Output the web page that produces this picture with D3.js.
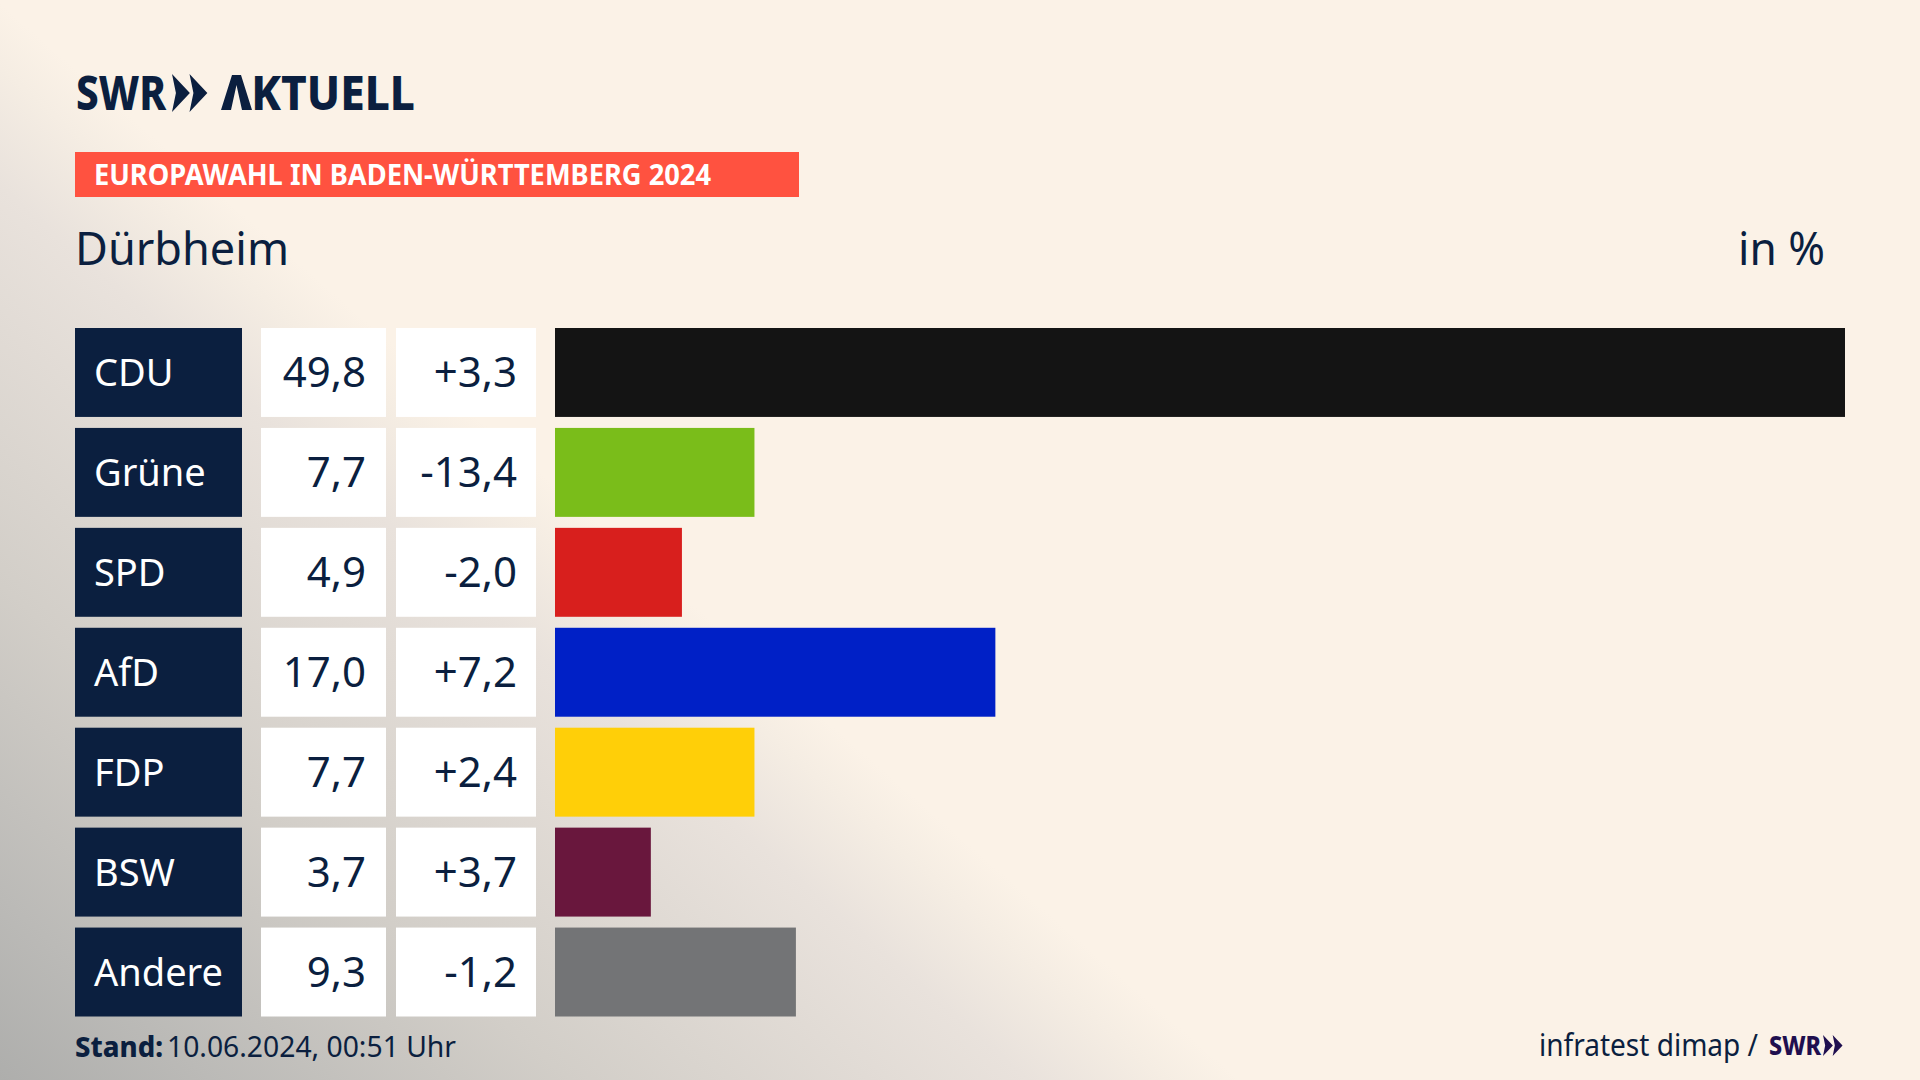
<!DOCTYPE html>
<html>
<head>
<meta charset="utf-8">
<script src="https://cdnjs.cloudflare.com/ajax/libs/d3/7.9.0/d3.min.js"></script>
<style>
  html, body { margin: 0; padding: 0; background: #fbf2e7; }
  svg { display: block; font-family: 'Noto Sans', sans-serif; }
</style>
</head>
<body>
<div id="chart"></div>
<script>
const parties = ['CDU', 'Grüne', 'SPD', 'AfD', 'FDP', 'BSW', 'Andere'];
const shares = [49.8, 7.7, 4.9, 17.0, 7.7, 3.7, 9.3];
const changes = [3.3, -13.4, -2.0, 7.2, 2.4, 3.7, -1.2];
const partyColors = ['#141414', '#7abd1a', '#d81f1d', '#0020c6', '#ffcf08', '#69173d', '#737476'];

const navy = '#0b1f3f';
const cream = '#fbf2e7';
const width = 1920;
const height = 1080;

const de = d3.formatLocale({ decimal: ',', thousands: '.', grouping: [3], currency: ['', '€'], minus: '-' });
const fmtShare = de.format('.1f');
const fmtChange = de.format('+.1f');

const svg = d3.select('#chart').append('svg').attr('width', width).attr('height', height);

// background, cream with a grey haze running in diagonally from the bottom left corner
const haze = svg.append('defs').append('linearGradient')
  .attr('id', 'haze')
  .attr('gradientUnits', 'userSpaceOnUse')
  .attr('x1', 0).attr('y1', height)
  .attr('x2', 533).attr('y2', 466);
[[0, '#aeaeac'], [0.17, '#bbbab7'], [0.46, '#d2cec8'], [0.83, '#e9e2dc'], [0.94, '#f5ede3'], [1, cream]]
  .forEach(([o, c]) => haze.append('stop').attr('offset', o).attr('stop-color', c));
svg.append('rect').attr('width', width).attr('height', height).attr('fill', 'url(#haze)');

// squeezes a label to the width it has in the original typeface
function label(g, txt, x, y, size, fit, opts = {}) {
  const t = g.append('text')
    .attr('x', x).attr('y', y)
    .attr('font-size', size)
    .attr('font-weight', opts.weight || 400)
    .attr('fill', opts.fill || navy)
    .attr('text-anchor', opts.anchor || 'start')
    .text(txt);
  if (fit) t.attr('textLength', fit).attr('lengthAdjust', 'spacingAndGlyphs');
  return t;
}

function chevrons(g, x, y, h, fill) {
  const w = h * 0.47;
  [0, w * 0.98].forEach((dx) => {
    const p = d3.path();
    p.moveTo(x + dx, y);
    p.lineTo(x + dx + w, y + h / 2);
    p.lineTo(x + dx, y + h);
    p.lineTo(x + dx + w * 0.22, y + h / 2);
    p.closePath();
    g.append('path').attr('d', p.toString()).attr('fill', fill);
  });
}

// header
const head = svg.append('g');
label(head, 'SWR', 76, 110, 48, 90, { weight: 800 });
chevrons(head, 172, 74, 38, navy);

// the logo's A has no crossbar, so the letter stays in the text but the shape is drawn
const aktuell = label(head, '', 220, 110, 48, 195, { weight: 800 });
aktuell.append('tspan').attr('fill-opacity', 0).text('A');
aktuell.append('tspan').text('KTUELL');
const bareA = d3.path();
bareA.moveTo(232, 75);
bareA.lineTo(241, 75);
bareA.lineTo(252, 110);
bareA.lineTo(242, 110);
bareA.lineTo(236.5, 85);
bareA.lineTo(231, 110);
bareA.lineTo(221, 110);
bareA.closePath();
head.append('path').attr('d', bareA.toString()).attr('fill', navy);

head.append('rect').attr('x', 75).attr('y', 152).attr('width', 724).attr('height', 45).attr('fill', '#ff5240');
label(head, 'EUROPAWAHL IN BADEN-WÜRTTEMBERG 2024', 94, 185, 28, 617, { weight: 700, fill: '#fff' });
label(head, 'Dürbheim', 75, 265, 45, 214);
label(head, 'in %', 1825, 265, 45, 87, { anchor: 'end' });

// rows
const x = d3.scaleLinear().domain([0, d3.max(shares)]).range([0, 1290]);
const y = d3.scaleBand().domain(parties).range([328, 1016.5]).paddingInner(0.11);

const rows = svg.append('g').selectAll('g')
  .data(parties.map((name, i) => ({ name, share: shares[i], change: changes[i], color: partyColors[i] })))
  .join('g')
  .attr('transform', (d) => `translate(0, ${y(d.name)})`);

const bh = y.bandwidth();
rows.append('rect').attr('x', 75).attr('width', 167).attr('height', bh).attr('fill', navy);
rows.append('rect').attr('x', 261).attr('width', 125).attr('height', bh).attr('fill', '#fff');
rows.append('rect').attr('x', 396).attr('width', 140).attr('height', bh).attr('fill', '#fff');
rows.append('rect').attr('x', 555).attr('width', (d) => x(d.share)).attr('height', bh).attr('fill', (d) => d.color);

rows.append('text').attr('x', 94).attr('y', bh / 2 + 14).attr('font-size', 38).attr('fill', '#fff').text((d) => d.name);
rows.append('text').attr('x', 366).attr('y', bh / 2 + 15).attr('font-size', 42).attr('fill', navy).attr('text-anchor', 'end').text((d) => fmtShare(d.share));
rows.append('text').attr('x', 517).attr('y', bh / 2 + 15).attr('font-size', 42).attr('fill', navy).attr('text-anchor', 'end').text((d) => fmtChange(d.change));

// footer
const foot = svg.append('g');
label(foot, 'Stand:', 75, 1057, 29, 88, { weight: 800 });
label(foot, '10.06.2024, 00:51 Uhr', 167, 1057, 29, 289);
label(foot, 'infratest dimap /', 1539, 1056, 30, 219);
label(foot, 'SWR', 1769, 1055, 27, 52, { weight: 800, fill: '#1f0f4f' });
chevrons(foot, 1823, 1035, 21, '#1f0f4f');
</script>
</body>
</html>
